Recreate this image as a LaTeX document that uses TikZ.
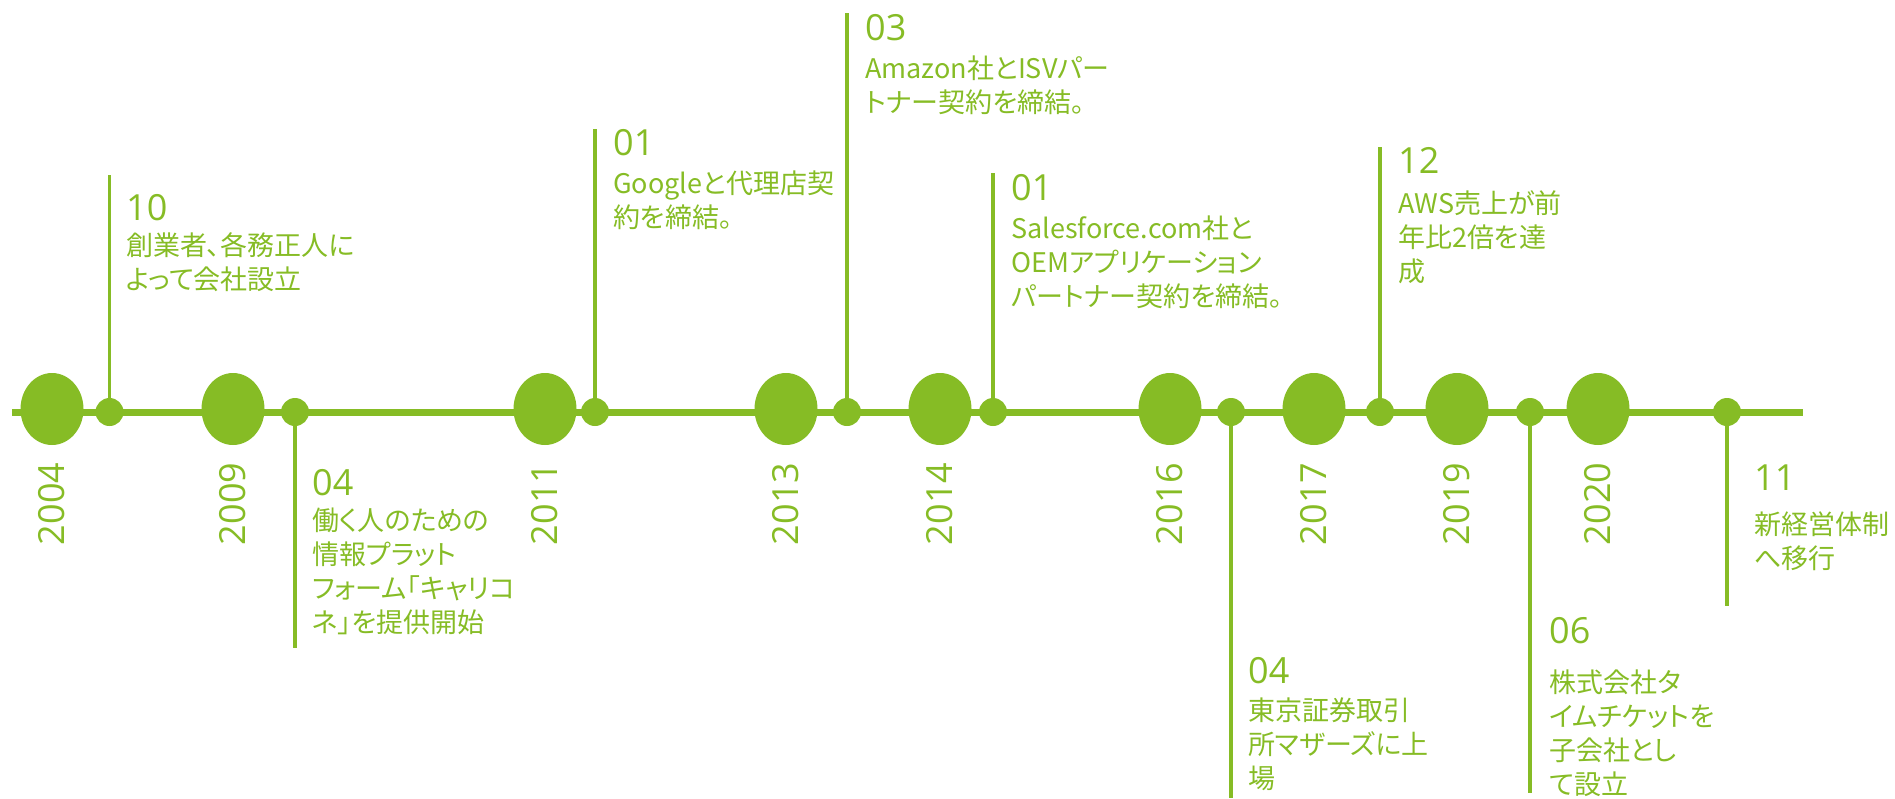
\documentclass[tikz,border=0pt]{standalone}
\usepackage{fontspec}
\usetikzlibrary{positioning,shapes.geometric}
\newfontfamily\jpfont{Noto Sans CJK JP}[RawFeature=+palt]
\newfontfamily\numfont{Open Sans}
\definecolor{tlgreen}{HTML}{86BC25}

\tikzset{
  mainline/.style={draw=tlgreen, line width=7pt},
  stem/.style={draw=tlgreen, line width=3.5pt},
  yearblob/.style={ellipse, fill=tlgreen, minimum width=63pt, minimum height=72pt, inner sep=0pt},
  evdot/.style={circle, fill=tlgreen, minimum size=28pt, inner sep=0pt},
  yearlbl/.style={rotate=90, anchor=west, inner sep=0pt, text=tlgreen, font=\numfont\fontsize{36}{40}\selectfont},
  evnum/.style={anchor=base west, inner sep=0pt, text=tlgreen, font=\numfont\fontsize{36}{40}\selectfont},
  evtext/.style={align=left, inner sep=0pt, text=tlgreen, font=\jpfont\fontsize{27}{34}\selectfont}
}

\begin{document}
\begin{tikzpicture}[x=1pt,y=-1pt]
\useasboundingbox (0,0) rectangle (1895,798);

% time axis
\coordinate (lstart) at (12,412);
\coordinate (lend) at (1803,412);
\draw[mainline] (lstart) -- (lend);

% years
\node[yearblob] (y2004) at (52,409) {};
\node[yearblob] (y2009) at (233,409) {};
\node[yearblob] (y2011) at (545,409) {};
\node[yearblob] (y2013) at (786,409) {};
\node[yearblob] (y2014) at (940,409) {};
\node[yearblob] (y2016) at (1170,409) {};
\node[yearblob] (y2017) at (1314,409) {};
\node[yearblob] (y2019) at (1457,409) {};
\node[yearblob] (y2020) at (1598,409) {};
\node[yearlbl] (l2004) at ([yshift=-100pt]y2004.south) {2004};
\node[yearlbl] (l2009) at ([yshift=-100pt]y2009.south) {2009};
\node[yearlbl] (l2011) at ([yshift=-100pt]y2011.south) {2011};
\node[yearlbl] (l2013) at ([yshift=-100pt]y2013.south) {2013};
\node[yearlbl] (l2014) at ([yshift=-100pt]y2014.south) {2014};
\node[yearlbl] (l2016) at ([yshift=-100pt]y2016.south) {2016};
\node[yearlbl] (l2017) at ([yshift=-100pt]y2017.south) {2017};
\node[yearlbl] (l2019) at ([yshift=-100pt]y2019.south) {2019};
\node[yearlbl] (l2020) at ([yshift=-100pt]y2020.south) {2020};

% events above the axis
\node[evdot] (d1) at (109.5,412) {};
\coordinate (s1) at (109.5,175);
\draw[stem] (d1.center) -- (s1);
\node[evnum] (n1) at (126,220) {10};
\node[evtext, below right=12pt and 0pt of n1.south west] (t1) {創業者、各務正人に\\よって会社設立};

\node[evdot] (d3) at (595,412) {};
\coordinate (s3) at (595,129);
\draw[stem] (d3.center) -- (s3);
\node[evnum] (n3) at (613,155) {01};
\node[evtext, below right=15pt and 0pt of n3.south west] (t3) {Googleと代理店契\\約を締結。};

\node[evdot] (d4) at (847,412) {};
\coordinate (s4) at (847,13);
\draw[stem] (d4.center) -- (s4);
\node[evnum] (n4) at (865,40) {03};
\node[evtext, below right=15pt and 0pt of n4.south west] (t4) {Amazon社とISVパー\\トナー契約を締結。};

\node[evdot] (d5) at (993,412) {};
\coordinate (s5) at (993,173);
\draw[stem] (d5.center) -- (s5);
\node[evnum] (n5) at (1011,200) {01};
\node[evtext, below right=15pt and 0pt of n5.south west] (t5) {Salesforce.com社と\\OEMアプリケーション\\パートナー契約を締結。};

\node[evdot] (d7) at (1380,412) {};
\coordinate (s7) at (1380,147);
\draw[stem] (d7.center) -- (s7);
\node[evnum] (n7) at (1398,173) {12};
\node[evtext, below right=17pt and 0pt of n7.south west] (t7) {AWS売上が前\\年比2倍を達\\成};

% events below the axis
\node[evdot] (d2) at (295,412) {};
\coordinate (s2) at (295,648);
\draw[stem] (d2.center) -- (s2);
\node[evnum] (n2) at (312,495) {04};
\node[evtext, below right=12pt and 0pt of n2.south west] (t2) {働く人のための\\情報プラット\\フォーム「キャリコ\\ネ」を提供開始};

\node[evdot] (d6) at (1231,412) {};
\coordinate (s6) at (1231,798);
\draw[stem] (d6.center) -- (s6);
\node[evnum] (n6) at (1248,683) {04};
\node[evtext, below right=14pt and 0pt of n6.south west] (t6) {東京証券取引\\所マザーズに上\\場};

\node[evdot] (d8) at (1530,412) {};
\coordinate (s8) at (1530,793);
\draw[stem] (d8.center) -- (s8);
\node[evnum] (n8) at (1549,643) {06};
\node[evtext, below right=26pt and 0pt of n8.south west] (t8) {株式会社タ\\イムチケットを\\子会社とし\\て設立};

\node[evdot] (d9) at (1727,412) {};
\coordinate (s9) at (1727,606);
\draw[stem] (d9.center) -- (s9);
\node[evnum] (n9) at (1754,490) {11};
\node[evtext, below right=21pt and 0pt of n9.south west] (t9) {新経営体制\\へ移行};
\end{tikzpicture}
\end{document}
